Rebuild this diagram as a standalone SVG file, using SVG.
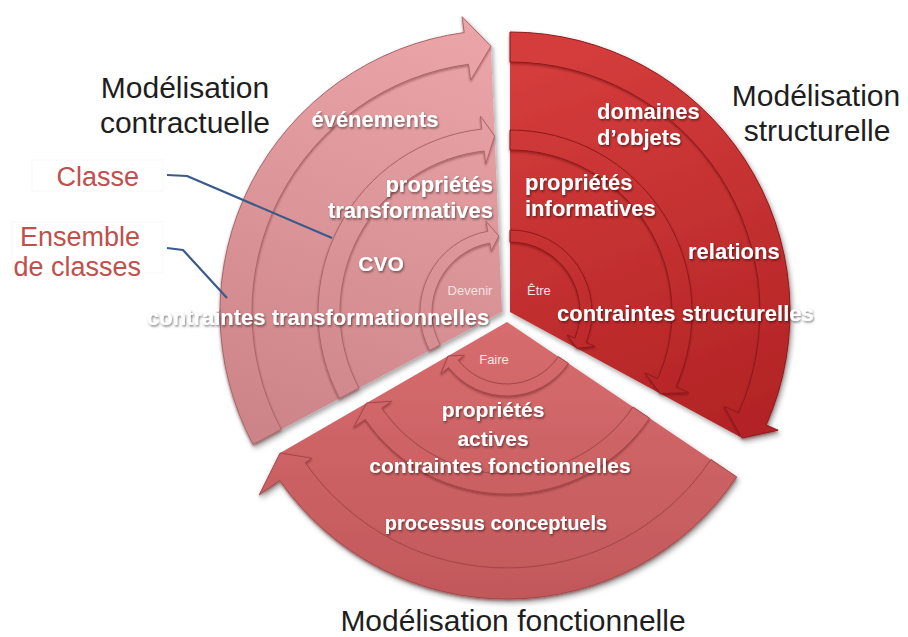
<svg xmlns="http://www.w3.org/2000/svg" width="908" height="637" viewBox="0 0 908 637">
<defs>
<linearGradient id="gl" gradientUnits="userSpaceOnUse" x1="420" y1="30" x2="280" y2="440"><stop offset="0" stop-color="#eaa4a7"/><stop offset="1" stop-color="#cc8488"/></linearGradient>
<linearGradient id="gr" gradientUnits="userSpaceOnUse" x1="580" y1="40" x2="720" y2="440"><stop offset="0" stop-color="#d53d3c"/><stop offset="1" stop-color="#b22325"/></linearGradient>
<linearGradient id="gb" gradientUnits="userSpaceOnUse" x1="500" y1="330" x2="500" y2="600"><stop offset="0" stop-color="#d66c6e"/><stop offset="1" stop-color="#c2585a"/></linearGradient>
<filter id="sh" x="-10%" y="-10%" width="120%" height="120%"><feDropShadow dx="2" dy="3" stdDeviation="2.5" flood-color="#000" flood-opacity="0.35"/></filter>
<filter id="bv" x="-10%" y="-10%" width="120%" height="120%"><feDropShadow dx="0" dy="1.5" stdDeviation="1.3" flood-color="#4a0a0a" flood-opacity="0.4"/></filter>
<filter id="ts" x="-10%" y="-30%" width="120%" height="160%"><feDropShadow dx="1" dy="1.5" stdDeviation="1.2" flood-color="#000" flood-opacity="0.5"/></filter>
<style>
.bl{fill:url(#gl);stroke:#a9666a;stroke-width:1;filter:url(#bv)}
.br{fill:url(#gr);stroke:#8e1a1c;stroke-width:1;filter:url(#bv)}
.bb{fill:url(#gb);stroke:#a2474a;stroke-width:1;filter:url(#bv)}
.w{font-family:"Liberation Sans",Arial,sans-serif;font-weight:bold;fill:#fff;filter:url(#ts)}
.s{font-family:"Liberation Sans",Arial,sans-serif;font-size:13px;fill:#f7e2e2}
.t{font-family:"Liberation Sans",Arial,sans-serif;font-size:30px;fill:#1e1e1e}
.r{font-family:"Liberation Sans",Arial,sans-serif;font-size:27px;fill:#c0504d;text-anchor:end}
.c{fill:none;stroke:#3a5a8a;stroke-width:2.2;stroke-linejoin:round}
.bx{fill:none;stroke:#f8f8f8;stroke-width:1}
</style>
</defs>
<rect width="908" height="637" fill="#fff"/>

<g id="sector-contractuelle">
<g filter="url(#sh)">
<path fill="url(#gl)" d="M502,312 L267.14,436.88 A266,266 0 0 1 490.86,46.23 Z"/>
<path class="bl" d="M253.01,444.39 A282,282 0 0 1 464.22,32.54 L462.07,16.69 L490.86,46.23 L470.65,80.11 L468.50,64.25 A250,250 0 0 0 281.26,429.37 Z"/>
<path class="bl" d="M339.54,398.38 A184,184 0 0 1 481.81,129.11 L480.38,116.19 L494.63,136.15 L485.65,163.90 L484.22,150.98 A162,162 0 0 0 358.96,388.05 Z"/>
<path class="bl" d="M429.60,350.50 A82,82 0 0 1 487.76,231.25 L486.02,221.40 L498.82,236.07 L491.23,250.94 L489.84,243.06 A70,70 0 0 0 440.19,344.86 Z"/>
</g>
<text class="w" x="375" y="127" font-size="22" text-anchor="middle">événements</text>
<text class="w" x="493" y="192" font-size="22" text-anchor="end">propriétés</text>
<text class="w" x="493" y="218" font-size="22" text-anchor="end">transformatives</text>
<text class="w" x="381" y="271" font-size="21" text-anchor="middle">CVO</text>
<text class="s" x="470" y="295" text-anchor="middle">Devenir</text>
<text class="w" x="147" y="325" font-size="22">contraintes transformationnelles</text>
</g>

<g id="sector-structurelle">
<g filter="url(#sh)">
<path fill="url(#gr)" d="M510,312 L510,50 A262,262 0 0 1 740.25,437.02 Z"/>
<path class="br" d="M510,32 A280,280 0 0 1 766.20,424.99 L778.09,430.24 L742.01,437.97 L724.11,406.43 L738.75,412.89 A250,250 0 0 0 510,62 Z"/>
<path class="br" d="M510,130 A182,182 0 0 1 675.88,386.90 L688.64,392.66 L660.28,393.59 L644.89,372.90 L657.65,378.66 A162,162 0 0 0 510,150 Z"/>
<path class="br" d="M510,230 A82,82 0 0 1 586.03,342.72 L595.30,346.46 L576.79,348.26 L567.49,335.23 L574.90,338.22 A70,70 0 0 0 510,242 Z"/>
</g>
<text class="w" x="597" y="119" font-size="22">domaines</text>
<text class="w" x="597" y="145" font-size="22">d’objets</text>
<text class="w" x="525" y="190" font-size="22">propriétés</text>
<text class="w" x="525" y="216" font-size="22">informatives</text>
<text class="w" x="688" y="259" font-size="22">relations</text>
<text class="s" x="527" y="295">Être</text>
<text class="w" x="557" y="321" font-size="22">contraintes structurelles</text>
</g>

<g id="sector-fonctionnelle">
<g filter="url(#sh)">
<path fill="url(#gb)" d="M507,322 L724.21,468.51 A262,262 0 0 1 280.10,453 Z"/>
<path class="bb" d="M736.64,476.90 A277,277 0 0 1 279.82,480.49 L259.31,494.79 L280.10,453.00 L311.80,458.17 L305.24,462.75 A246,246 0 0 0 710.94,459.56 Z"/>
<path class="bb" d="M649.59,418.18 A172,172 0 0 1 365.25,419.42 L353.71,427.35 L366.70,403.00 L391.62,401.30 L381.73,408.09 A152,152 0 0 0 633.01,407.00 Z"/>
<path class="bb" d="M568.35,363.38 A74,74 0 0 1 448.69,367.56 L440.81,373.72 L448.11,356.00 L464.45,355.25 L458.14,360.17 A62,62 0 0 0 558.40,356.67 Z"/>
</g>
<text class="s" x="494" y="364" text-anchor="middle">Faire</text>
<text class="w" x="493" y="417" font-size="21" text-anchor="middle">propriétés</text>
<text class="w" x="493" y="446" font-size="21" text-anchor="middle">actives</text>
<text class="w" x="500" y="473" font-size="21" text-anchor="middle">contraintes fonctionnelles</text>
<text class="w" x="496" y="530" font-size="20" text-anchor="middle">processus conceptuels</text>
</g>

<g id="title-contractuelle">
<text class="t" x="185" y="98" text-anchor="middle">Modélisation</text>
<text class="t" x="185" y="133" text-anchor="middle">contractuelle</text>
</g>
<g id="title-structurelle">
<text class="t" x="816" y="106" text-anchor="middle">Modélisation</text>
<text class="t" x="817" y="141" text-anchor="middle">structurelle</text>
</g>
<g id="title-fonctionnelle">
<text class="t" x="513" y="631" text-anchor="middle">Modélisation fonctionnelle</text>
</g>

<g id="label-classe">
<rect class="bx" x="32" y="160" width="131" height="31"/>
<text class="r" x="139" y="186">Classe</text>
</g>
<g id="label-ensemble">
<rect class="bx" x="12" y="222" width="151" height="51"/>
<text class="r" x="140" y="246">Ensemble</text>
<text class="r" x="141" y="276">de classes</text>
</g>

<g id="connectors">
<polyline class="c" points="167,175 187,176 332,238"/>
<polyline class="c" points="167,248 183,250 227,298"/>
</g>
</svg>
